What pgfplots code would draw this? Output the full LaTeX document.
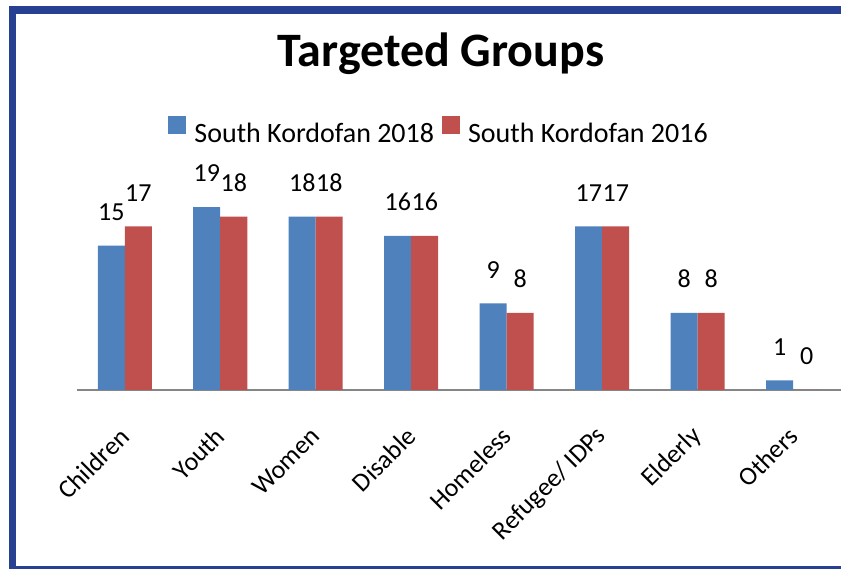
\documentclass[border=0pt]{standalone}
\usepackage{pgfplots}
\pgfplotsset{compat=1.18}
\usepackage{fontspec}
\setmainfont{Carlito}
\definecolor{frameblue}{RGB}{40,64,146}
\definecolor{xlblue}{RGB}{79,129,189}
\definecolor{xlred}{RGB}{192,80,77}
\definecolor{axgray}{RGB}{134,134,134}
\begin{document}
\begin{tikzpicture}[x=1pt,y=1pt]
\useasboundingbox (0,0) rectangle (841,569);
\fill[white] (0,0) rectangle (841,569);
\fill[frameblue] (9,563) rectangle (841,555);
\fill[frameblue] (9,563) rectangle (16,0);
\fill[frameblue] (9,0) rectangle (841,3);
\node[anchor=base, inner sep=0pt, font=\fontsize{48}{56}\selectfont\bfseries] at (441,502.3) {Targeted Groups};
\begin{axis}[
  at={(77pt,179pt)}, anchor=south west,
  scale only axis, width=764pt, height=192.6pt,
  xmin=-0.5, xmax=7.5, ymin=0, ymax=20,
  axis x line=bottom, axis y line=none,
  x axis line style={-, axgray, line width=1.6pt},
  ybar=0pt, bar width=27pt,
  xtick={0,...,7},
  xticklabels={Children,Youth,Women,Disable,Homeless,Refugee/ IDPs,Elderly,Others},
  major tick length=0pt,
  xticklabel style={font=\fontsize{26}{30}\selectfont, xshift=0pt, yshift=-42pt, rotate=45, anchor=east, inner sep=0pt},
  /pgf/number format/assume math mode=true,
  nodes near coords,
  every node near coord/.append style={font=\fontsize{26}{30}\selectfont, black, inner sep=0pt, text depth=0pt, yshift=25pt},
  legend style={at={(0.474,1.345)}, anchor=center, draw=none, fill=none,
    font=\fontsize{28}{32}\selectfont,
    /tikz/every odd column/.append style={column sep=6pt},
    /tikz/every even column/.append style={column sep=6pt}},
  legend columns=2,
  legend image code/.code={\fill[#1] (0pt,0pt) rectangle (18pt,18pt);},
  clip=false,
]
\addplot[fill=xlblue, draw=none] coordinates {(0,15) (1,19) (2,18) (3,16) (4,9) (5,17) (6,8) (7,1)};
\addplot[fill=xlred, draw=none] coordinates {(0,17) (1,18) (2,18) (3,16) (4,8) (5,17) (6,8) (7,0)};
\legend{South Kordofan 2018, South Kordofan 2016}
\end{axis}
\end{tikzpicture}
\end{document}
